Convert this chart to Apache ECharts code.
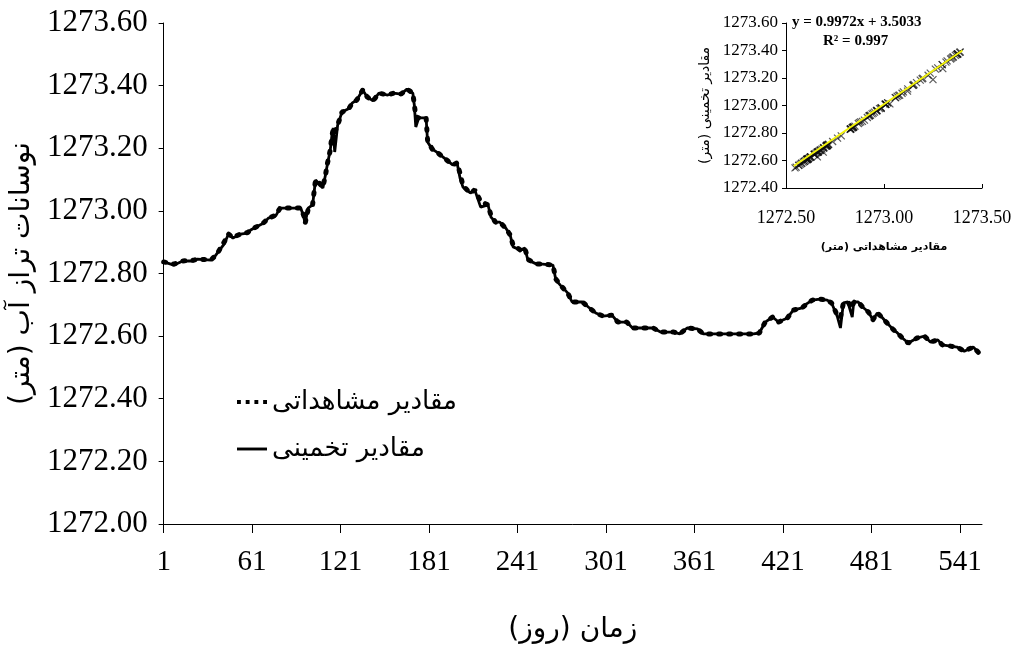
<!DOCTYPE html>
<html>
<head>
<meta charset="utf-8">
<script src="https://cdn.jsdelivr.net/npm/echarts@6.0.0/dist/echarts.min.js"></script>
<style>
html,body{margin:0;padding:0;background:#fff;}
#main{width:1015px;height:656px;}
</style>
</head>
<body>
<div id="main"></div>
<script>
// روزها (محور افقی)
var days = [1, 8, 14, 21, 24, 33, 35, 38, 42, 45, 48, 53, 58, 60, 65, 69, 72, 77, 80, 88,
    94, 96, 97, 99, 102, 103, 104, 106, 109, 111, 112, 114, 115, 116, 117, 119, 122, 126, 129, 132,
    136, 139, 143, 147, 153, 157, 162, 166, 170, 171, 172, 174, 179, 180, 183, 187, 192, 197, 200, 202,
    204, 209, 212, 216, 221, 223, 226, 229, 233, 236, 238, 243, 246, 248, 254, 258, 265, 267, 270, 275,
    278, 285, 289, 294, 299, 305, 309, 315, 319, 333, 338, 347, 351, 356, 363, 367, 378, 401, 405, 409,
    414, 418, 424, 428, 434, 437, 441, 446, 451, 454, 458, 460, 462, 465, 468, 469, 472, 475, 479, 482,
    485, 488, 491, 496, 498, 502, 506, 512, 517, 521, 526, 529, 539, 544, 550, 554];

// مقادیر تخمینی
var estimated = [1272.837, 1272.827, 1272.840, 1272.840, 1272.846, 1272.843, 1272.850, 1272.869, 1272.894, 1272.926,
    1272.913, 1272.926, 1272.929, 1272.939, 1272.952, 1272.961, 1272.977, 1272.984, 1273.009, 1273.009,
    1273.009, 1272.980, 1272.961, 1273.009, 1273.019, 1273.057, 1273.099, 1273.089, 1273.073, 1273.121,
    1273.147, 1273.194, 1273.236, 1273.265, 1273.188, 1273.274, 1273.316, 1273.325, 1273.345, 1273.354,
    1273.386, 1273.364, 1273.351, 1273.376, 1273.370, 1273.376, 1273.373, 1273.389, 1273.376, 1273.338,
    1273.268, 1273.297, 1273.297, 1273.220, 1273.198, 1273.185, 1273.166, 1273.147, 1273.153, 1273.105,
    1273.076, 1273.057, 1273.067, 1273.012, 1273.019, 1272.980, 1272.964, 1272.964, 1272.945, 1272.923,
    1272.885, 1272.875, 1272.881, 1272.843, 1272.830, 1272.830, 1272.827, 1272.779, 1272.763, 1272.738,
    1272.709, 1272.709, 1272.693, 1272.674, 1272.664, 1272.667, 1272.645, 1272.645, 1272.626, 1272.626,
    1272.613, 1272.613, 1272.607, 1272.626, 1272.623, 1272.607, 1272.607, 1272.607, 1272.610, 1272.645,
    1272.661, 1272.645, 1272.658, 1272.683, 1272.690, 1272.703, 1272.715, 1272.718, 1272.715, 1272.706,
    1272.661, 1272.626, 1272.706, 1272.709, 1272.661, 1272.709, 1272.709, 1272.693, 1272.677, 1272.652,
    1272.674, 1272.661, 1272.645, 1272.620, 1272.613, 1272.594, 1272.578, 1272.594, 1272.600, 1272.581,
    1272.588, 1272.572, 1272.565, 1272.552, 1272.565, 1272.546];

// مقادیر مشاهداتی
var observed = [1272.837, 1272.830, 1272.840, 1272.842, 1272.846, 1272.843, 1272.852, 1272.869, 1272.900, 1272.926,
    1272.915, 1272.926, 1272.931, 1272.939, 1272.952, 1272.963, 1272.977, 1272.986, 1273.009, 1273.009,
    1273.009, 1272.985, 1272.961, 1273.005, 1273.019, 1273.060, 1273.099, 1273.092, 1273.075, 1273.121,
    1273.150, 1273.194, 1273.236, 1273.262, 1273.250, 1273.274, 1273.316, 1273.322, 1273.345, 1273.354,
    1273.386, 1273.364, 1273.351, 1273.376, 1273.370, 1273.376, 1273.373, 1273.389, 1273.376, 1273.340,
    1273.300, 1273.297, 1273.297, 1273.225, 1273.198, 1273.185, 1273.166, 1273.147, 1273.153, 1273.120,
    1273.080, 1273.057, 1273.067, 1273.030, 1273.019, 1272.985, 1272.964, 1272.964, 1272.945, 1272.923,
    1272.890, 1272.875, 1272.881, 1272.845, 1272.830, 1272.830, 1272.827, 1272.782, 1272.763, 1272.738,
    1272.709, 1272.709, 1272.693, 1272.674, 1272.664, 1272.667, 1272.645, 1272.645, 1272.626, 1272.626,
    1272.613, 1272.613, 1272.607, 1272.626, 1272.623, 1272.607, 1272.607, 1272.607, 1272.610, 1272.645,
    1272.661, 1272.645, 1272.658, 1272.683, 1272.690, 1272.703, 1272.715, 1272.718, 1272.715, 1272.706,
    1272.665, 1272.660, 1272.706, 1272.709, 1272.690, 1272.709, 1272.709, 1272.693, 1272.677, 1272.652,
    1272.674, 1272.661, 1272.645, 1272.620, 1272.613, 1272.594, 1272.578, 1272.594, 1272.600, 1272.581,
    1272.588, 1272.572, 1272.565, 1272.552, 1272.565, 1272.546];

// برچسب های محور افقی
var xTicks = [1, 61, 121, 181, 241, 301, 361, 421, 481, 541];

// خط روند نمودار کوچک (دو سر خط، خوانده شده از تصویر)
var trendX = [1272.54, 1273.40];
var trendY = [1272.56, 1273.40];

var RLM = '\u200F';
var obsName = 'مقادیر مشاهداتی';
var estName = 'مقادیر تخمینی';
var serif = '"Liberation Serif", "Times New Roman", serif';
var farsi = '"DejaVu Sans", sans-serif';

var chart = echarts.init(document.getElementById('main'));

// داده های سری ها
var obsLine = [], estLine = [], scatter = [];
for (var i = 0; i < days.length; i++) {
    obsLine.push([days[i], observed[i]]);
    estLine.push([days[i], estimated[i]]);
    scatter.push([observed[i], estimated[i]]);
}
var trend = [[trendX[0], trendY[0]], [trendX[1], trendY[1]]];

var option = {
    backgroundColor: '#fff',
    animation: false,
    grid: [
        {left: 162, top: 23, width: 820, height: 501},   // نمودار اصلی
        {left: 786, top: 23, width: 196, height: 165}    // نمودار کوچک
    ],
    legend: {
        orient: 'vertical',
        left: 232,
        top: 384,
        itemWidth: 30,
        itemHeight: 4,
        itemGap: 21,
        textStyle: {fontFamily: farsi, fontSize: 26, color: '#000'},
        data: [
            {name: obsName, icon: 'path://M0,0h4v4h-4zM9,0h4v4h-4zM18,0h4v4h-4zM27,0h4v4h-4z'},
            {name: estName, icon: 'path://M0,0h31v3h-31z'}
        ]
    },
    xAxis: [
        {
            gridIndex: 0,
            type: 'value',
            min: 1,
            max: 556,
            name: 'زمان (روز)' + RLM,
            nameLocation: 'middle',
            nameGap: 92,
            nameTextStyle: {fontFamily: farsi, fontSize: 28, color: '#000'},
            axisLine: {lineStyle: {color: '#000', width: 1}},
            axisTick: {customValues: xTicks, length: 9, lineStyle: {color: '#000'}},
            axisLabel: {customValues: xTicks, margin: 24, fontFamily: serif, fontSize: 29, color: '#000'},
            splitLine: {show: false}
        },
        {
            gridIndex: 1,
            type: 'value',
            min: 1272.5,
            max: 1273.5,
            interval: 0.5,
            name: 'مقادیر مشاهداتی (متر)' + RLM,
            nameLocation: 'middle',
            nameGap: 54,
            nameTextStyle: {fontFamily: farsi, fontSize: 11, fontWeight: 'bold', color: '#000'},
            axisLine: {lineStyle: {color: '#000', width: 1}},
            axisTick: {inside: true, length: 4, lineStyle: {color: '#000'}},
            axisLabel: {margin: 21, fontFamily: serif, fontSize: 18, color: '#000',
                formatter: function (v) { return v.toFixed(2); }},
            splitLine: {show: false}
        }
    ],
    yAxis: [
        {
            gridIndex: 0,
            type: 'value',
            min: 1272,
            max: 1273.6,
            interval: 0.2,
            name: 'نوسانات تراز آب (متر)' + RLM,
            nameLocation: 'middle',
            nameRotate: 90,
            nameGap: 126,
            nameTextStyle: {fontFamily: farsi, fontSize: 28, color: '#000'},
            axisLine: {show: true, lineStyle: {color: '#000', width: 1}},
            axisTick: {show: true, length: 5, lineStyle: {color: '#000'}},
            axisLabel: {margin: 16, fontFamily: serif, fontSize: 31, color: '#000',
                formatter: function (v) { return v.toFixed(2); }},
            splitLine: {show: false}
        },
        {
            gridIndex: 1,
            type: 'value',
            min: 1272.4,
            max: 1273.6,
            interval: 0.2,
            name: 'مقادیر تخمینی (متر)' + RLM,
            nameLocation: 'middle',
            nameRotate: 90,
            nameGap: 74,
            nameTextStyle: {fontFamily: farsi, fontSize: 14, color: '#000'},
            axisLine: {show: true, lineStyle: {color: '#000', width: 1}},
            axisTick: {show: true, length: 4, lineStyle: {color: '#000'}},
            axisLabel: {margin: 8, fontFamily: serif, fontSize: 17, color: '#000',
                formatter: function (v) { return v.toFixed(2); }},
            splitLine: {show: false}
        }
    ],
    graphic: [
        {type: 'text', left: 792, top: 15,
            style: {text: 'y = 0.9972x + 3.5033', font: 'bold 15px ' + serif, fill: '#000'}},
        {type: 'text', left: 823, top: 34,
            style: {text: 'R² = 0.997', font: 'bold 15px ' + serif, fill: '#000'}}
    ],
    series: [
        {
            name: estName,
            type: 'line',
            xAxisIndex: 0,
            yAxisIndex: 0,
            showSymbol: false,
            color: '#000',
            lineStyle: {color: '#000', width: 2.8},
            data: estLine
        },
        {
            name: obsName,
            type: 'line',
            xAxisIndex: 0,
            yAxisIndex: 0,
            showSymbol: false,
            color: '#000',
            lineStyle: {color: '#000', width: 5, type: [2, 8], cap: 'round'},
            data: obsLine
        },
        {
            name: 'scatter',
            type: 'scatter',
            xAxisIndex: 1,
            yAxisIndex: 1,
            symbol: 'path://M0,0L10,10M10,0L0,10',
            symbolSize: 7,
            itemStyle: {color: 'transparent', borderColor: 'rgba(15,15,15,0.85)', borderWidth: 1.2},
            data: scatter
        },
        {
            name: 'trend',
            type: 'line',
            xAxisIndex: 1,
            yAxisIndex: 1,
            showSymbol: false,
            lineStyle: {color: '#f2f20a', width: 2},
            data: trend
        }
    ]
};
chart.setOption(option);
</script>
</body>
</html>
